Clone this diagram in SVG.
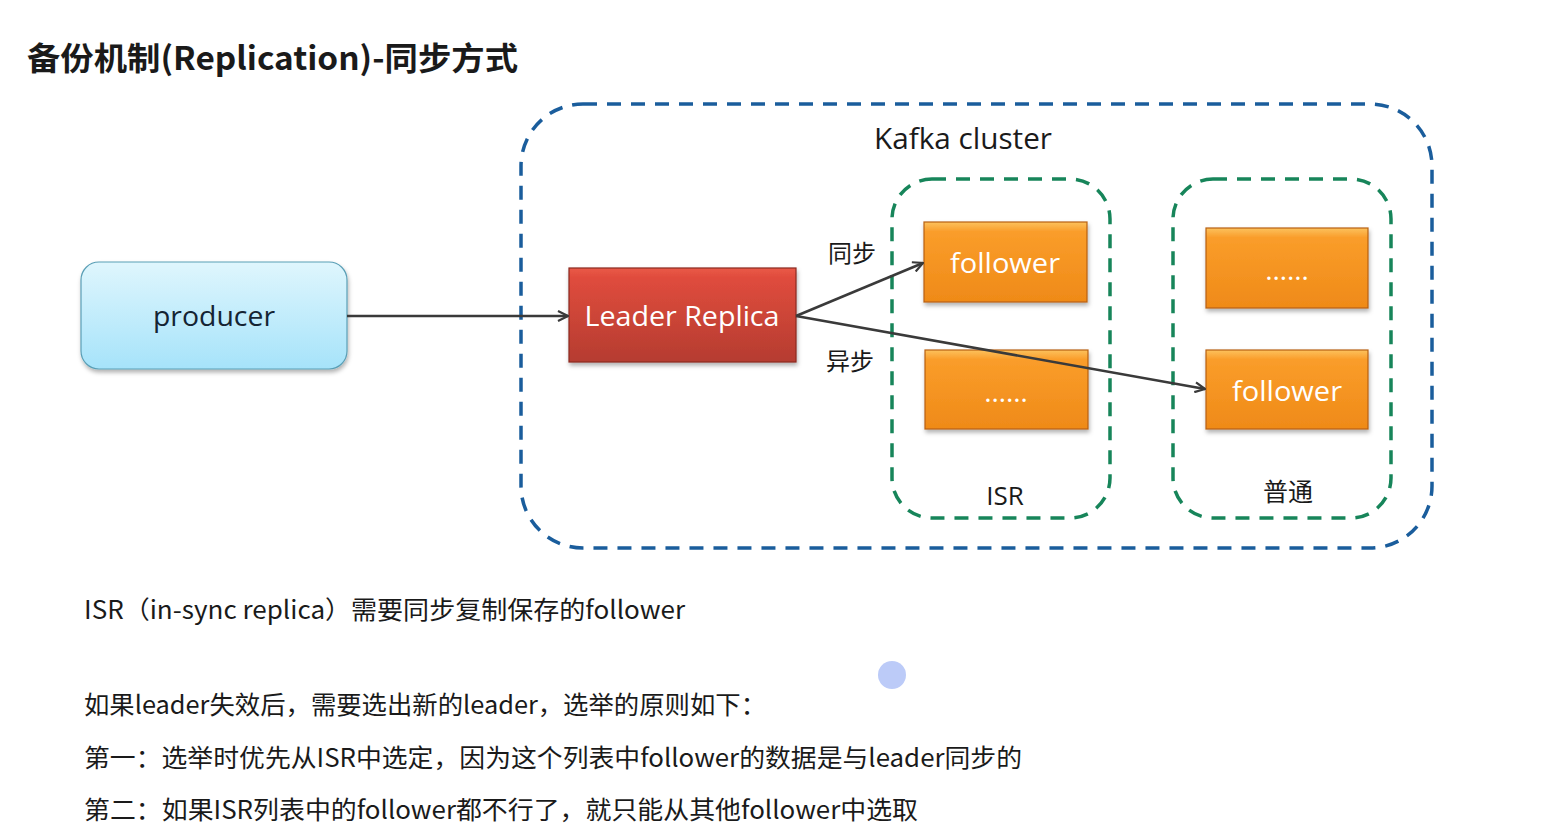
<svg xmlns="http://www.w3.org/2000/svg" width="1566" height="833" viewBox="0 0 1566 833">
<style>
.cjk{font-family:"Noto Sans CJK SC","Microsoft YaHei",sans-serif;}
.lat{font-family:"Open Sans","Noto Sans CJK SC",sans-serif;}
.body{font-size:25px;fill:#1a1a1a;}
.wt{fill:#ffffff;font-size:28px;text-anchor:middle;}
.orange{fill:url(#og);stroke:#b8600f;stroke-width:1.2;filter:url(#sh);}
.blueDash{fill:none;stroke:#1a5d9c;stroke-width:3.5;stroke-dasharray:14 10;}
.greenDash{fill:none;stroke:#17855a;stroke-width:3.5;stroke-dasharray:14 10;}
.conn{stroke:#3a3a3a;stroke-width:2.5;fill:none;marker-end:url(#arr);}
</style>
<defs>
<linearGradient id="og" x1="0" y1="0" x2="0" y2="1">
<stop offset="0" stop-color="#fcc25e"/>
<stop offset="0.12" stop-color="#fa9d2a"/>
<stop offset="1" stop-color="#ef8a18"/>
</linearGradient>
<linearGradient id="rg" x1="0" y1="0" x2="0" y2="1">
<stop offset="0" stop-color="#ea5a48"/>
<stop offset="0.1" stop-color="#e04c3d"/>
<stop offset="1" stop-color="#b53c30"/>
</linearGradient>
<linearGradient id="bg" x1="0" y1="0" x2="0" y2="1">
<stop offset="0" stop-color="#dff6fd"/>
<stop offset="1" stop-color="#a6e3fa"/>
</linearGradient>
<filter id="sh" x="-10%" y="-10%" width="125%" height="130%">
<feDropShadow dx="1" dy="3" stdDeviation="2" flood-color="#000" flood-opacity="0.3"/>
</filter>
<marker id="arr" viewBox="0 0 12 12" refX="11" refY="6" markerWidth="12" markerHeight="12" markerUnits="userSpaceOnUse" orient="auto">
<path d="M1,1 L11,6 L1,11" fill="none" stroke="#3a3a3a" stroke-width="2.2"/>
</marker>
</defs>
<rect width="1566" height="833" fill="#ffffff"/>

<text class="cjk" x="27" y="70" font-size="32" font-weight="bold" fill="#1a1a1a" textLength="491" lengthAdjust="spacingAndGlyphs">备份机制(Replication)-同步方式</text>

<g id="kafka-cluster">
<rect class="blueDash" x="521" y="104" width="911" height="444" rx="62"/>
<text class="lat" x="963" y="149" font-size="29" fill="#1a1a1a" text-anchor="middle" textLength="178" lengthAdjust="spacingAndGlyphs">Kafka cluster</text>
</g>

<g id="isr-group">
<rect class="greenDash" x="892" y="179" width="218" height="339" rx="40"/>
<text class="lat" x="1005" y="505" font-size="26" fill="#1a1a1a" text-anchor="middle">ISR</text>
</g>

<g id="normal-group">
<rect class="greenDash" x="1173" y="179" width="218" height="339" rx="40"/>
<text class="cjk" x="1288" y="501" font-size="25" fill="#1a1a1a" text-anchor="middle">普通</text>
</g>

<g id="producer">
<rect x="81" y="262" width="266" height="107" rx="18" fill="url(#bg)" stroke="#5a9fb6" stroke-width="1.2" filter="url(#sh)"/>
<text class="lat" x="214" y="326" font-size="28" fill="#142433" text-anchor="middle" textLength="122" lengthAdjust="spacingAndGlyphs">producer</text>
</g>

<g id="leader-replica">
<rect x="569" y="268" width="227" height="94" fill="url(#rg)" stroke="#8a2a20" stroke-width="1.2" filter="url(#sh)"/>
<text class="lat wt" x="682" y="326" textLength="195" lengthAdjust="spacingAndGlyphs">Leader Replica</text>
</g>

<g id="isr-follower">
<rect class="orange" x="924" y="222" width="163" height="80"/>
<text class="lat wt" x="1005" y="273" textLength="110" lengthAdjust="spacingAndGlyphs">follower</text>
</g>

<g id="isr-more">
<rect class="orange" x="925" y="350" width="163" height="79"/>
<text class="lat wt" x="1006" y="402" font-size="22">……</text>
</g>

<g id="normal-more">
<rect class="orange" x="1206" y="228" width="162" height="80"/>
<text class="lat wt" x="1287" y="280" font-size="22">……</text>
</g>

<g id="normal-follower">
<rect class="orange" x="1206" y="350" width="162" height="79"/>
<text class="lat wt" x="1287" y="401" textLength="110" lengthAdjust="spacingAndGlyphs">follower</text>
</g>

<g id="connectors">
<line class="conn" x1="347" y1="316" x2="568" y2="316"/>
<line class="conn" x1="796" y1="316" x2="923" y2="263"/>
<line class="conn" x1="796" y1="316" x2="1205" y2="389"/>
<text class="cjk" x="852" y="262" font-size="24" fill="#1a1a1a" text-anchor="middle">同步</text>
<text class="cjk" x="850" y="370" font-size="24" fill="#1a1a1a" text-anchor="middle">异步</text>
</g>

<circle cx="892" cy="675" r="14" fill="#bccbf8"/>

<g id="notes">
<text class="cjk body" x="84" y="619" textLength="601" lengthAdjust="spacingAndGlyphs">ISR（in-sync replica）需要同步复制保存的follower</text>
<text class="cjk body" x="84" y="714" textLength="682" lengthAdjust="spacingAndGlyphs">如果leader失效后，需要选出新的leader，选举的原则如下：</text>
<text class="cjk body" x="84" y="767" textLength="938" lengthAdjust="spacingAndGlyphs">第一：选举时优先从ISR中选定，因为这个列表中follower的数据是与leader同步的</text>
<text class="cjk body" x="84" y="819" textLength="834" lengthAdjust="spacingAndGlyphs">第二：如果ISR列表中的follower都不行了，就只能从其他follower中选取</text>
</g>
</svg>
